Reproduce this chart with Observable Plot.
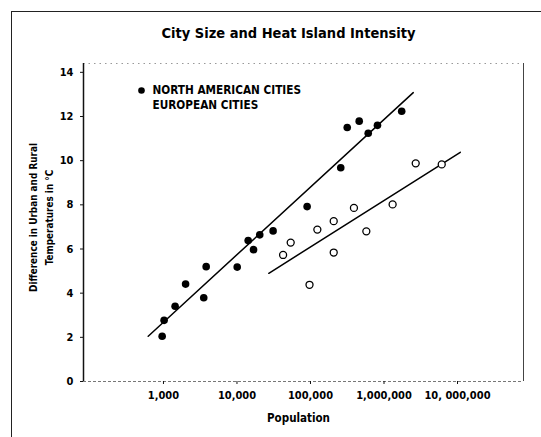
<!DOCTYPE html>
<html>
<head>
<meta charset="utf-8">
<script src="https://cdn.jsdelivr.net/npm/d3@7"></script>
<script src="https://cdn.jsdelivr.net/npm/@observablehq/plot@0.6"></script>
<style>
  html, body { margin: 0; padding: 0; background: #fff; overflow: hidden; }
  #wrap { position: relative; width: 541px; height: 437px; overflow: hidden; }
  #outer { position: absolute; left: 11px; top: 11px; right: -6px; bottom: -6px; border: 1.5px solid #222; pointer-events: none; }
  svg { font-family: "Liberation Sans Narrow", "DejaVu Sans Condensed", "Arial Narrow", sans-serif; }
</style>
</head>
<body>
<div id="wrap"><div id="outer"></div></div>
<script>
// Data
const naPop = [960, 1020, 1440, 2000, 3530, 3810, 10070, 14200, 16800, 20400, 31000, 90000, 258000, 316000, 460000, 610000, 815000, 1740000];
const naDT  = [2.05, 2.77, 3.41, 4.41, 3.79, 5.2, 5.18, 6.38, 5.97, 6.64, 6.82, 7.92, 9.68, 11.5, 11.79, 11.24, 11.6, 12.24];
const euPop = [2700000, 6100000, 1310000, 390000, 207000, 124000, 575000, 53800, 42400, 207000, 97000];
const euDT  = [9.88, 9.83, 8.02, 7.86, 7.26, 6.88, 6.8, 6.29, 5.73, 5.84, 4.38];
// Fitted lines (endpoints)
const naLinePop = [620, 2500000];
const naLineDT  = [2.05, 13.08];
const euLinePop = [27100, 10900000];
const euLineDT  = [4.9, 10.38];
// Axis ticks
const xTicks = [1e3, 1e4, 1e5, 1e6, 1e7];
const xTickLabels = ["1,000", "10,000", "100,000", "1,000,000", "10, 000,000"];
const yTicks = [0, 2, 4, 6, 8, 10, 12, 14];
const xDomain = [81.7, 7.9e7];
const yDomain = [0, 14.4];

const na = naPop.map((p, i) => ({pop: p, dT: naDT[i]}));
const eu = euPop.map((p, i) => ({pop: p, dT: euDT[i]}));
const naLine = naLinePop.map((p, i) => ({pop: p, dT: naLineDT[i]}));
const euLine = euLinePop.map((p, i) => ({pop: p, dT: euLineDT[i]}));

const chart = Plot.plot({
  width: 541,
  height: 437,
  marginLeft: 83,
  marginRight: 18,
  marginTop: 63,
  marginBottom: 56,
  style: {background: "transparent", fontFamily: '"Liberation Sans Narrow", "DejaVu Sans Condensed", sans-serif'},
  x: {type: "log", domain: xDomain},
  y: {domain: yDomain},
  marks: [
    // plot frame
    Plot.ruleY([yDomain[1]], {stroke: "#999", strokeWidth: 1, strokeDasharray: "1.5,4"}),
    Plot.ruleY([0], {stroke: "#777", strokeWidth: 1, strokeDasharray: "3,2"}),
    Plot.ruleX([xDomain[1]], {stroke: "#444", strokeWidth: 1}),
    Plot.ruleX([xDomain[0]], {stroke: "#111", strokeWidth: 1.5}),
    Plot.axisY({ticks: yTicks, tickSize: 3, tickPadding: 7, fontSize: 11, fontWeight: "bold", label: null, stroke: "#111"}),
    Plot.axisX({ticks: xTicks, tickFormat: (d) => xTickLabels[xTicks.indexOf(d)], tickSize: 3, tickPadding: 7, fontSize: 11, fontWeight: "bold", label: null, stroke: "#111"}),
    // regression lines
    Plot.line(naLine, {x: "pop", y: "dT", stroke: "#000", strokeWidth: 1.5}),
    Plot.line(euLine, {x: "pop", y: "dT", stroke: "#000", strokeWidth: 1.5}),
    // data
    Plot.dot(na, {x: "pop", y: "dT", r: 3.8, fill: "#000", stroke: "none"}),
    Plot.dot(eu, {x: "pop", y: "dT", r: 3.5, fill: "#fff", stroke: "#000", strokeWidth: 1.3}),
    // title
    Plot.text(["City Size and Heat Island Intensity"], {frameAnchor: "top", dx: -15, dy: -30, fontSize: 14.5, fontWeight: "bold", fill: "#000", lineAnchor: "middle"}),
    // legend
    Plot.dot([0], {frameAnchor: "top-left", dx: 58, dy: 27, r: 3.3, fill: "#000"}),
    Plot.text(["NORTH AMERICAN CITIES\nEUROPEAN CITIES"], {frameAnchor: "top-left", dx: 69, dy: 21, textAnchor: "start", lineAnchor: "top", fontSize: 11.7, lineHeight: 1.2, fontWeight: "bold", fill: "#000"}),
    // axis titles
    Plot.text(["Population"], {frameAnchor: "bottom", dx: -5, dy: 37, fontSize: 11.5, fontWeight: "bold", fill: "#000", lineAnchor: "middle"}),
    Plot.text(["Difference in Urban and Rural\nTemperatures in °C"], {frameAnchor: "left", dx: -44, dy: -5, rotate: -90, textAnchor: "middle", fontSize: 9.9, fontWeight: "bold", lineHeight: 1.65, fill: "#000", lineAnchor: "middle"})
  ]
});
document.getElementById("wrap").prepend(chart);
chart.style.position = "absolute";
chart.style.left = "0";
chart.style.top = "0";
</script>
</body>
</html>
